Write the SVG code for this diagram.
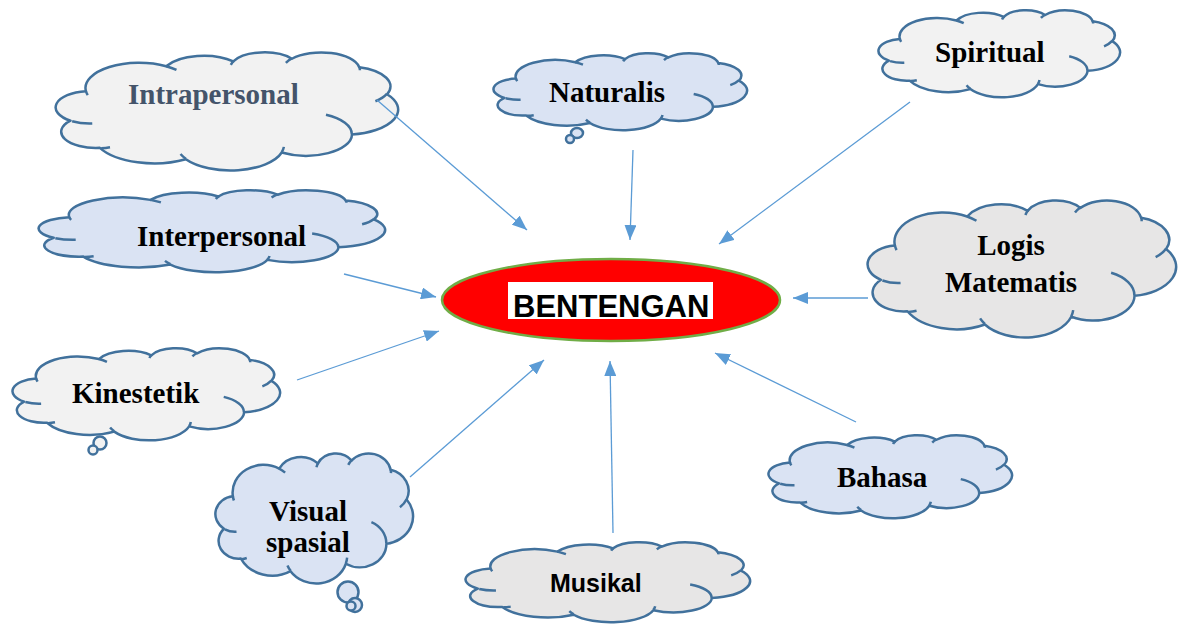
<svg xmlns="http://www.w3.org/2000/svg" xmlns:xlink="http://www.w3.org/1999/xlink" width="1179" height="626" viewBox="0 0 1179 626">
<style>
.cl{stroke:#41719c;stroke-width:2.5;stroke-linejoin:round}
.gray{fill:#f2f2f2}
.gray2{fill:#e7e6e6}
.blue{fill:#dae3f3}
.t{font-family:"Liberation Serif","Times New Roman",serif;font-weight:bold;font-size:29px;fill:#000}
.s{font-family:"Liberation Sans",Arial,sans-serif;font-weight:bold;fill:#000}
.conn{stroke:#5b9bd5;stroke-width:1.3;fill:none;marker-end:url(#ah)}
</style>
<defs>
<marker id="ah" markerUnits="userSpaceOnUse" markerWidth="16" markerHeight="12" refX="15" refY="6" orient="auto">
<path d="M0,0 L15,6 L0,12 z" fill="#5b9bd5"/>
</marker>
<path id="co" vector-effect="non-scaling-stroke" d="M3900 14370 A6753 9190 0 0 1 14004 5202 A5333 7267 0 0 1 22455 3433 A4365 5945 0 0 1 29832 2482 A4857 6595 0 0 1 38318 5575 A5333 7273 0 0 1 41818 15460 A6775 9220 0 0 1 37403 30203 A5785 7867 0 0 1 28554 36813 A6752 9215 0 0 1 16479 39267 A7720 10543 0 0 1 5648 35086 A4360 5918 0 0 1 1958 25165 A4345 5945 0 0 1 3900 14370 Z"/>
<path id="ci" vector-effect="non-scaling-stroke" fill="none" d="M4693 26177 A4345 5945 0 0 1 2159 25380 M6928 34899 A4360 5918 0 0 1 5819 35280 M16478 39090 A6752 9215 0 0 1 15810 37348 M28827 34751 A6752 9215 0 0 1 28560 36661 M34129 22954 A5785 7867 0 0 1 37381 30090 M41798 15354 A5333 7273 0 0 1 40351 18030 M38324 5426 A4857 6595 0 0 1 38400 6691 M29078 3952 A4857 6595 0 0 1 29819 2340 M22141 4720 A4365 5945 0 0 1 22540 3226 M14000 5192 A6753 9190 0 0 1 15301 6541 M4127 15789 A6753 9190 0 0 1 3900 14370"/>
</defs>
<rect width="1179" height="626" fill="#fff"/>

<g id="center">
<ellipse cx="611" cy="300" rx="169" ry="41" fill="#ff0000" stroke="#70ad47" stroke-width="2.5"/>
<rect x="508" y="282" width="205" height="37" fill="#fff"/>
<text class="s" x="513" y="317" font-size="31">BENTENGAN</text>
</g>

<g id="intrapersonal">
<g transform="translate(55,52) scale(0.007940,0.002731)"><use href="#co" class="cl gray"/><use href="#ci" class="cl"/></g>
<text class="t" x="128" y="104" style="fill:#44546a">Intrapersonal</text>
</g>

<g id="naturalis">
<g transform="translate(493,53) scale(0.005880,0.001782)"><use href="#co" class="cl blue"/><use href="#ci" class="cl"/></g>
<ellipse cx="577" cy="133" rx="6" ry="5" class="cl blue"/>
<circle cx="570" cy="139" r="4" class="cl blue"/>
<text class="t" x="549" y="102">Naturalis</text>
</g>

<g id="spiritual">
<g transform="translate(878,10) scale(0.005602,0.002014)"><use href="#co" class="cl gray"/><use href="#ci" class="cl"/></g>
<text class="t" x="935" y="62">Spiritual</text>
</g>

<g id="interpersonal">
<g transform="translate(38,190) scale(0.008032,0.001898)"><use href="#co" class="cl blue"/><use href="#ci" class="cl"/></g>
<text class="t" x="137" y="246">Interpersonal</text>
</g>

<g id="logis-matematis">
<g transform="translate(867,200) scale(0.007153,0.003171)"><use href="#co" class="cl gray2"/><use href="#ci" class="cl"/></g>
<text class="t" x="1011" y="255" text-anchor="middle">Logis</text>
<text class="t" x="1011" y="292" text-anchor="middle">Matematis</text>
</g>

<g id="kinestetik">
<g transform="translate(12,348) scale(0.006204,0.002130)"><use href="#co" class="cl gray"/><use href="#ci" class="cl"/></g>
<circle cx="100" cy="443" r="6.5" class="cl gray"/>
<circle cx="93" cy="450" r="4.5" class="cl gray"/>
<text class="t" x="72" y="403">Kinestetik</text>
</g>

<g id="visual-spasial">
<g transform="translate(215,453) scale(0.004583,0.003009)"><use href="#co" class="cl blue"/><use href="#ci" class="cl"/></g>
<circle cx="348" cy="592" r="10.5" class="cl blue"/>
<circle cx="355" cy="605" r="7" class="cl blue"/>
<circle cx="351" cy="606" r="4.5" class="cl blue"/>
<text class="t" x="308" y="521" text-anchor="middle">Visual</text>
<text class="t" x="308" y="552" text-anchor="middle">spasial</text>
</g>

<g id="musikal">
<g transform="translate(465,542) scale(0.006597,0.001852)"><use href="#co" class="cl gray2"/><use href="#ci" class="cl"/></g>
<text class="s" x="550" y="592" font-size="25">Musikal</text>
</g>

<g id="bahasa">
<g transform="translate(768,435) scale(0.005648,0.001921)"><use href="#co" class="cl blue"/><use href="#ci" class="cl"/></g>
<text class="t" x="837" y="487">Bahasa</text>
</g>

<g id="connectors">
<line class="conn" x1="377" y1="100" x2="527" y2="230"/>
<line class="conn" x1="633" y1="150" x2="630" y2="240"/>
<line class="conn" x1="910" y1="102" x2="719" y2="244"/>
<line class="conn" x1="344" y1="274" x2="436" y2="297"/>
<line class="conn" x1="868" y1="298" x2="793" y2="298"/>
<line class="conn" x1="297" y1="380" x2="439" y2="331"/>
<line class="conn" x1="410" y1="477" x2="544" y2="360"/>
<line class="conn" x1="613" y1="533" x2="610" y2="361"/>
<line class="conn" x1="856" y1="422" x2="715" y2="353"/>
</g>
</svg>
